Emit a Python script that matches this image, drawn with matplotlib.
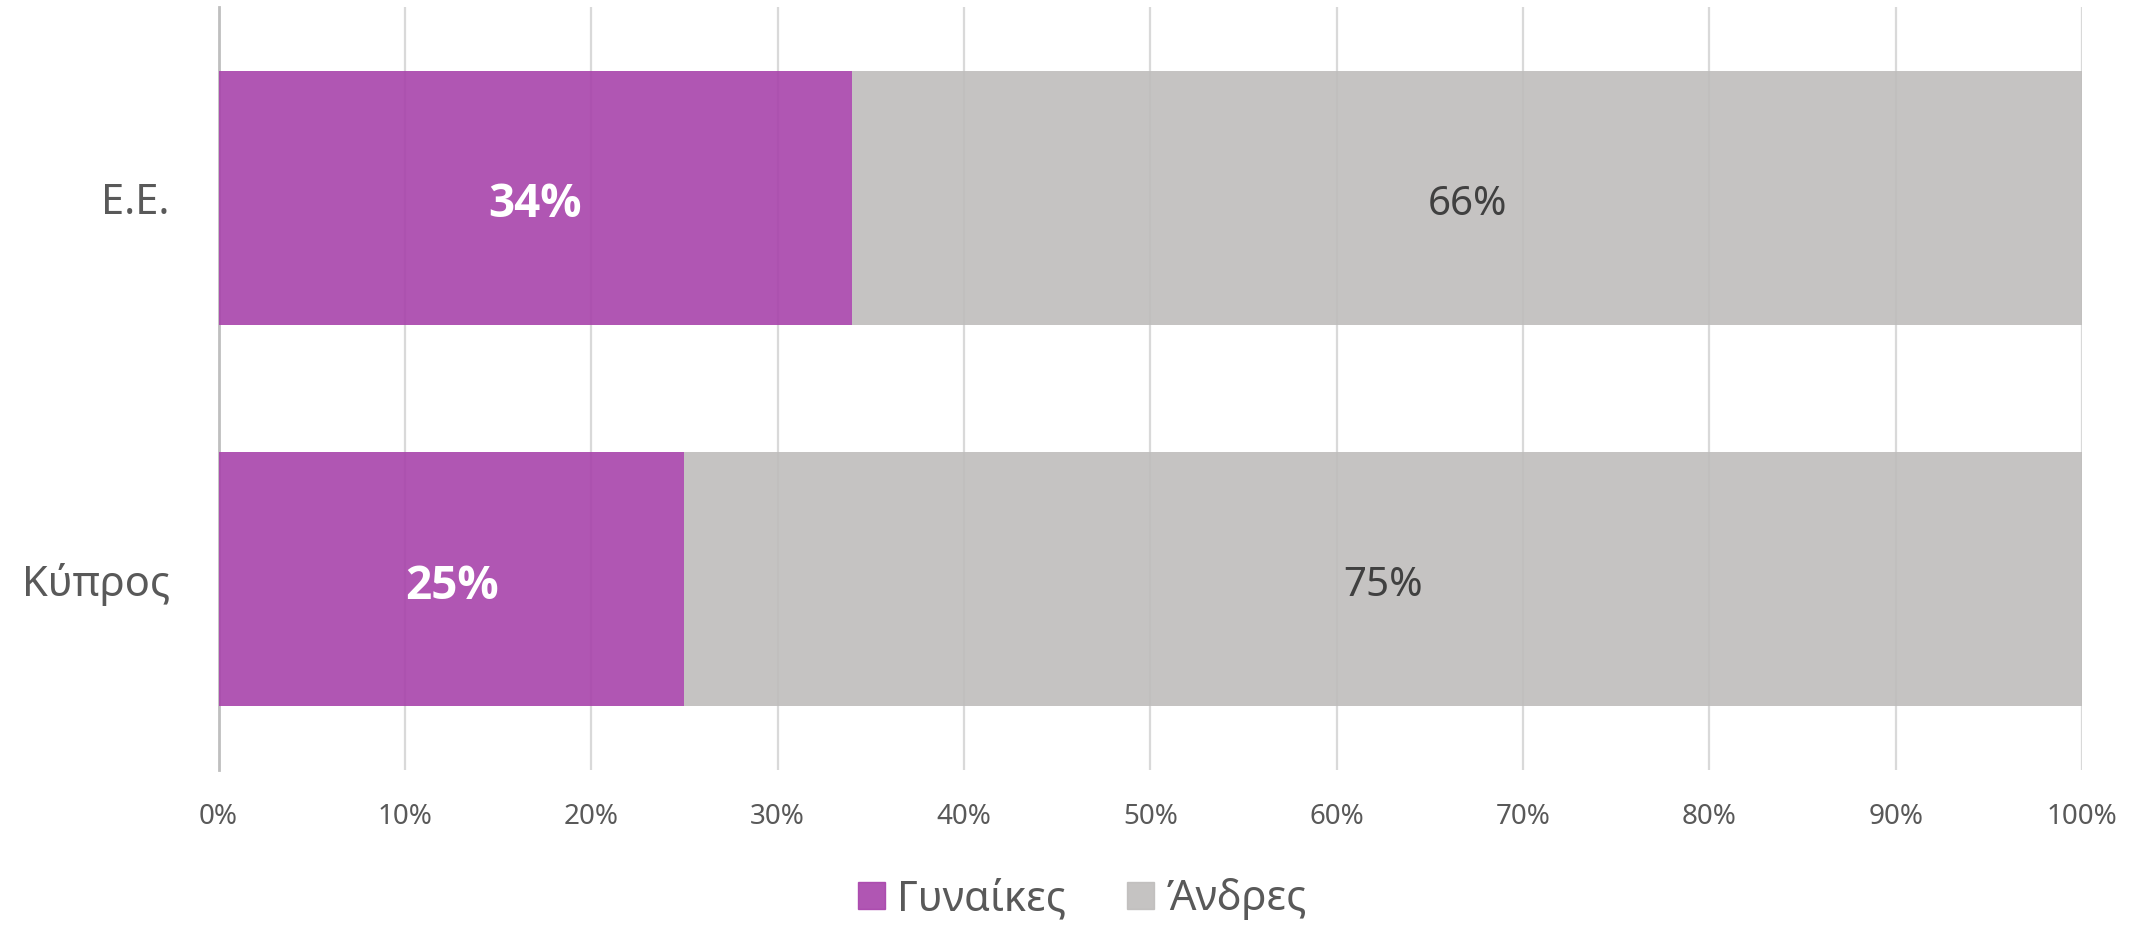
import matplotlib
matplotlib.use('Agg')
import matplotlib.pyplot as plt
import matplotlib.patches as mpatches
import numpy as np

plt.rcParams['font.family'] = ['Noto Sans', 'DejaVu Sans']

# data
categories = ['Ε.Ε.', 'Κύπρος']
women = [34, 25]
men = [66, 75]
series_names = ['Γυναίκες', 'Άνδρες']
xticks = np.arange(0, 101, 10)
xtick_labels = [f'{t}%' for t in xticks]

col_w = '#A843AB'
col_m = '#BFBDBC'

fig = plt.figure(figsize=(21.39, 9.26), dpi=100)
ax = fig.add_axes([0.1022, 0.1685, 0.8712, 0.8239])

y = np.arange(len(categories))
bh = 0.667
ax.barh(y, women, height=bh, color=col_w, alpha=0.9, zorder=2)
ax.barh(y, men, left=women, height=bh, color=col_m, alpha=0.9, zorder=2)

# labels in bars (sit a touch below centre, like the original)
dy = 0.018
for i in range(len(categories)):
    ax.text(women[i] / 2, y[i] + dy, f'{women[i]}%', ha='center', va='center',
            color='white', fontsize=33, fontweight='bold',
            family=['Open Sans', 'Roboto', 'DejaVu Sans'], zorder=3)
    ax.text(women[i] + men[i] / 2, y[i] + dy, f'{men[i]}%', ha='center', va='center',
            color='#404040', fontsize=29, zorder=3)

ax.set_xlim(0, 100)
ax.set_ylim(len(categories) - 0.5, -0.5)
ax.set_xticks(xticks)
ax.set_xticklabels(xtick_labels)
ax.set_yticks(y)
ax.set_yticklabels(categories)

ax.grid(axis='x', color='#D9D9D9', linewidth=1.6, zorder=0)
ax.set_axisbelow(True)
for s in ['top', 'right', 'bottom']:
    ax.spines[s].set_visible(False)
ax.spines['left'].set_color('#BFBFBF')
ax.spines['left'].set_linewidth(2)
ax.spines['left'].set_zorder(1)

ax.tick_params(axis='x', length=0, pad=24, labelsize=20, labelcolor='#595959')
ax.tick_params(axis='y', length=0, pad=35, labelsize=30, labelcolor='#595959')

handles = [mpatches.Patch(color=col_w, alpha=0.9, label=series_names[0]),
           mpatches.Patch(color=col_m, alpha=0.9, label=series_names[1])]
leg = fig.legend(handles=handles, loc='center', bbox_to_anchor=(0.506, 0.029),
                 ncol=2, frameon=False, fontsize=30, handlelength=0.65,
                 handleheight=0.65, handletextpad=0.3, columnspacing=1.45)
for t in leg.get_texts():
    t.set_color('#595959')

fig.savefig('out.png', dpi=100)
